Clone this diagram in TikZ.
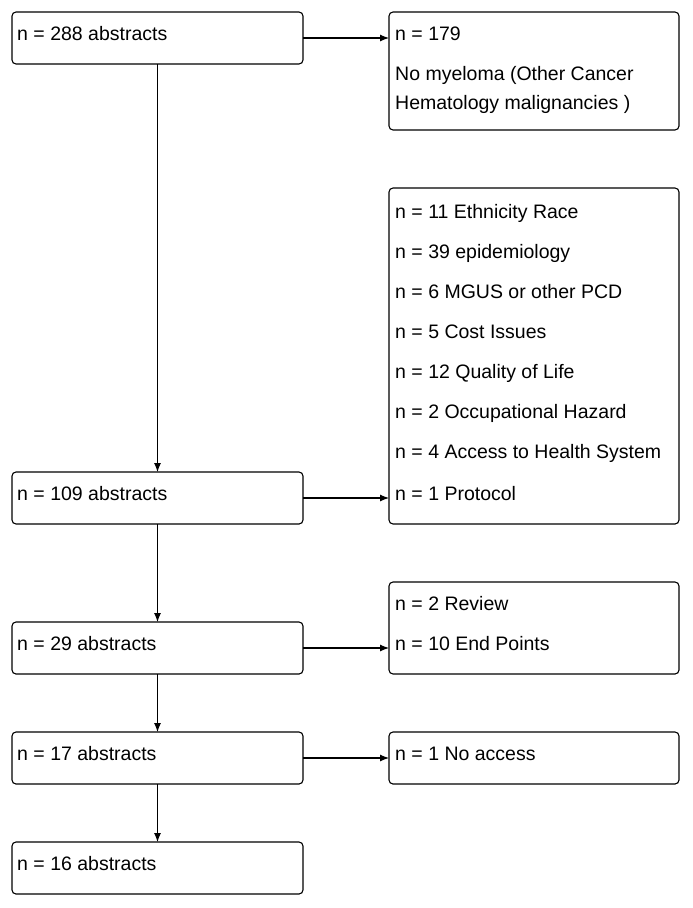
\documentclass[tikz,border=0pt]{standalone}
\usepackage{fontspec}
\setmainfont{Liberation Sans}
\usetikzlibrary{arrows.meta}
\begin{document}
\begin{tikzpicture}[x=1pt,y=-1pt,
  box/.style={draw, line width=1.1pt, rounded corners=4pt, anchor=north west, inner sep=0pt, outer sep=0pt},
  lbox/.style={box, minimum width=291pt, minimum height=52pt},
  txt/.style={anchor=base west, inner sep=0pt, font=\fontsize{19.5pt}{23pt}\selectfont},
  arr/.style={line width=1.1pt, -{Latex[length=9pt,width=7pt]}}]
\useasboundingbox (0,0) rectangle (693,908);
% left column
\node[lbox] (b1) at (12,12) {};
\node[lbox] (b2) at (12,472) {};
\node[lbox] (b3) at (12,622) {};
\node[lbox] (b4) at (12,732) {};
\node[lbox] (b5) at (12,842) {};
\node[txt] (t1) at (17,40) {n = 288 abstracts};
\node[txt] (t2) at (17,500) {n = 109 abstracts};
\node[txt] (t3) at (17,650) {n = 29 abstracts};
\node[txt] (t4) at (17,760) {n = 17 abstracts};
\node[txt] (t5) at (17,870) {n = 16 abstracts};
% right column
\node[box, minimum width=290pt, minimum height=118pt] (r1) at (389,12) {};
\node[box, minimum width=290pt, minimum height=336pt] (r2) at (389,188) {};
\node[box, minimum width=290pt, minimum height=92pt] (r3) at (389,582) {};
\node[box, minimum width=290pt, minimum height=52pt] (r4) at (389,732) {};
\node[txt] (r1a) at (395,40) {n = 179};
\node[txt] (r1b) at (395,80) {No myeloma (Other Cancer};
\node[txt] (r1c) at (395,109) {Hematology malignancies )};
\node[txt] (r2a) at (395,218) {n = 11 Ethnicity Race};
\node[txt] (r2b) at (395,258) {n = 39 epidemiology};
\node[txt] (r2c) at (395,298) {n = 6 MGUS or other PCD};
\node[txt] (r2d) at (395,338) {n = 5 Cost Issues};
\node[txt] (r2e) at (395,378) {n = 12 Quality of Life};
\node[txt] (r2f) at (395,418) {n = 2 Occupational Hazard};
\node[txt] (r2g) at (395,458) {n = 4 Access to Health System};
\node[txt] (r2h) at (395,500) {n = 1 Protocol};
\node[txt] (r3a) at (395,610) {n = 2 Review};
\node[txt] (r3b) at (395,650) {n = 10 End Points};
\node[txt] (r4a) at (395,760) {n = 1 No access};
% connectors
\draw[arr] (b1.east) -- (b1.east -| r1.west);
\draw[arr] (b2.east) -- (b2.east -| r2.west);
\draw[arr] (b3.east) -- (b3.east -| r3.west);
\draw[arr] (b4.east) -- (b4.east -| r4.west);
\draw[arr] (b1.south) -- (b2.north);
\draw[arr] (b2.south) -- (b3.north);
\draw[arr] (b3.south) -- (b4.north);
\draw[arr] (b4.south) -- (b5.north);
\end{tikzpicture}
\end{document}
